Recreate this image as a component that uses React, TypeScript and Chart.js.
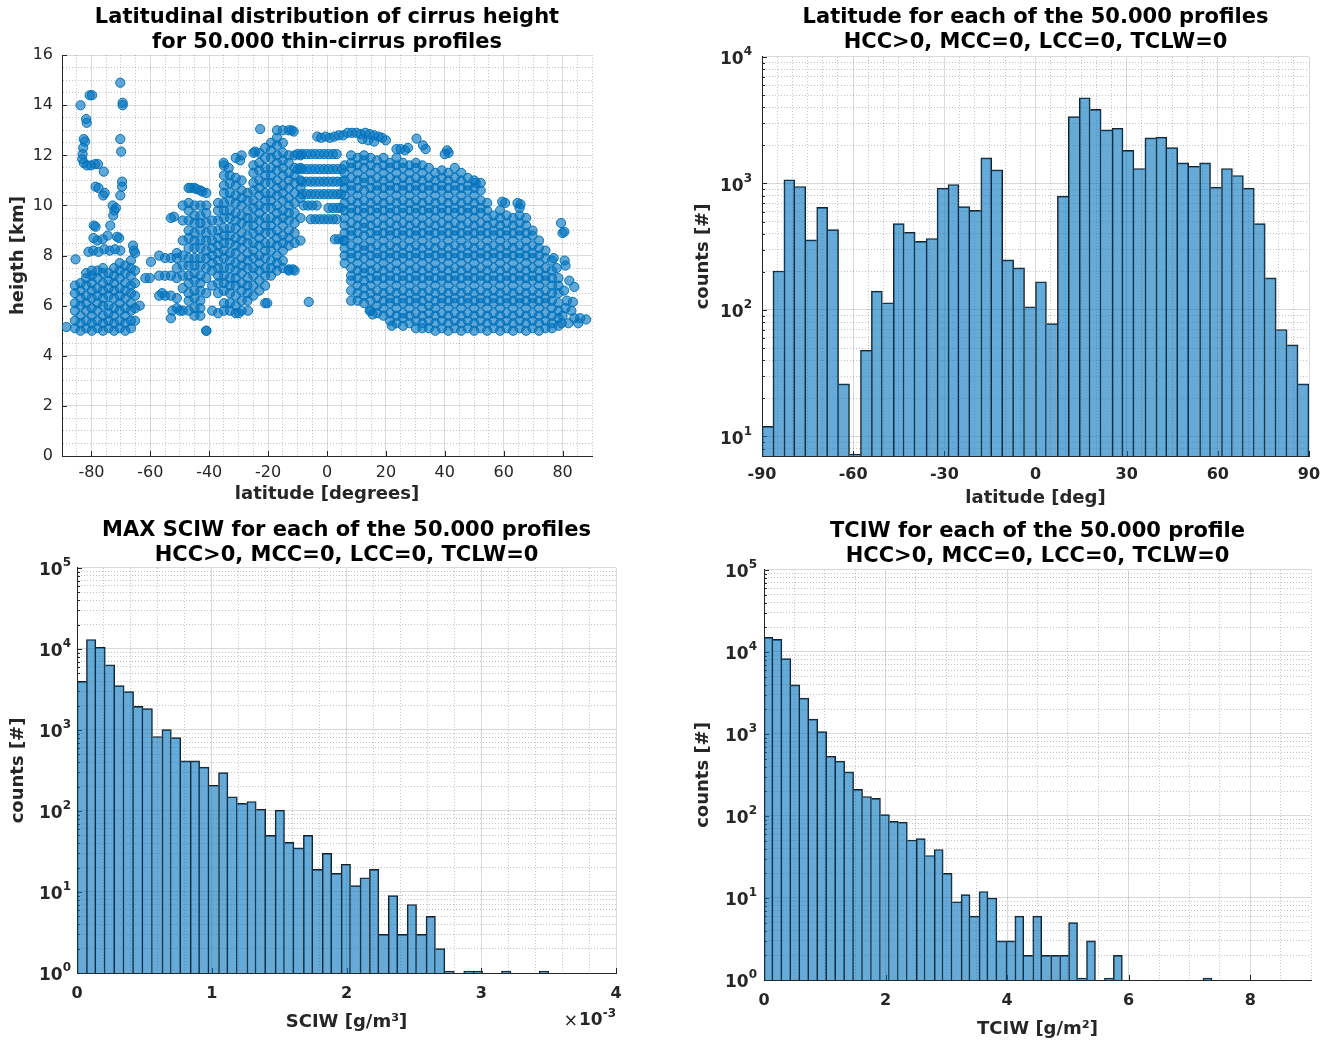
import React, { useEffect, useRef } from "react";
import { Chart, registerables } from "chart.js";

Chart.register(...registerables);

const FONT = "'DejaVu Sans', 'Liberation Sans', Arial, sans-serif";
const INK = "#262626";
const GRID_MAJOR = "rgba(38,38,38,0.17)";
const GRID_MINOR = "rgba(38,38,38,0.27)";
const BAR_FILL = "rgba(0,114,189,0.6)";
const BAR_EDGE = "#1f1f1f";
const DOT_FILL = "rgba(0,114,189,0.62)";
const DOT_EDGE = "#0072BD";

// ---------------- titles / labels ----------------
const titleScatter = ["Latitudinal distribution of cirrus height", "for 50.000 thin-cirrus profiles"];
const titleLat = ["Latitude for each of the 50.000 profiles", "HCC>0, MCC=0, LCC=0, TCLW=0"];
const titleSciw = ["MAX SCIW for each of the 50.000 profiles", "HCC>0, MCC=0, LCC=0, TCLW=0"];
const titleTciw = ["TCIW for each of the 50.000 profile", "HCC>0, MCC=0, LCC=0, TCLW=0"];

// ---------------- tick labels ----------------
const scatterLatTicks = [-80, -60, -40, -20, 0, 20, 40, 60, 80];
const scatterHeightTicks = [0, 2, 4, 6, 8, 10, 12, 14, 16];
const histLatTicks = [-90, -60, -30, 0, 30, 60, 90];
const sciwTicks = [0, 1, 2, 3, 4]; // in units of 1e-3 g/m3
const tciwTicks = [0, 2, 4, 6, 8];

// ---------------- scatter data (latitude, heights) ----------------
type Col = [number, number[]];

const polarSouthCols: Col[] = [
  [-85.6, [5.1, 5.4, 5.8, 6.1, 6.5, 6.8]],
  [-83.7, [5.0, 5.3, 5.6, 6.0, 6.3, 6.6, 6.9]],
  [-81.8, [5.1, 5.4, 5.8, 6.1, 6.4, 6.8, 7.1, 7.3]],
  [-79.9, [5.0, 5.3, 5.6, 5.9, 6.3, 6.6, 6.9, 7.2, 7.4]],
  [-78.0, [5.1, 5.4, 5.8, 6.1, 6.4, 6.7, 7.1, 7.4]],
  [-76.1, [5.0, 5.3, 5.6, 6.0, 6.3, 6.6, 6.9, 7.3, 7.5]],
  [-74.2, [5.1, 5.4, 5.7, 6.0, 6.4, 6.7, 7.0, 7.3]],
  [-72.3, [5.0, 5.3, 5.6, 5.9, 6.3, 6.6, 6.9, 7.2, 7.5]],
  [-70.4, [5.1, 5.4, 5.8, 6.1, 6.4, 6.7, 7.1, 7.4, 7.7]],
  [-68.5, [5.0, 5.3, 5.6, 5.9, 6.3, 6.6, 6.9, 7.3, 7.6]],
  [-66.6, [5.1, 5.4, 5.8, 6.1, 6.5, 6.8, 7.2, 7.5, 7.8]],
  [-65.2, [5.4, 5.9, 6.4, 6.9, 7.4, 8.1]],
];

const midSouthCols: Col[] = [
  [-57, [6.4, 7.2, 8.0]],
  [-55, [6.4, 7.2, 7.9]],
  [-53, [5.5, 6.4, 7.2, 7.9, 9.5]],
  [-51, [5.9, 6.3, 7.1, 7.5, 7.9, 8.1]],
  [-49, [5.8, 6.7, 7.2, 7.6, 8.0, 8.6, 9.4, 10.0]],
  [-47, [5.8, 6.2, 6.5, 6.9, 7.2, 7.6, 7.9, 8.3, 8.7, 9.0, 9.4, 9.8, 10.1, 10.7]],
  [-45, [5.6, 5.9, 6.3, 6.6, 7.0, 7.3, 7.6, 7.9, 8.3, 8.6, 8.9, 9.3, 9.6, 10.0, 10.7]],
  [-43, [5.6, 5.9, 6.2, 6.6, 6.9, 7.2, 7.6, 7.9, 8.3, 8.6, 9.0, 9.3, 9.6, 10.0, 10.6]],
  [-41, [5.0, 6.5, 7.1, 7.5, 7.9, 8.2, 8.6, 8.9, 9.3, 9.7, 10.0, 10.5]],
  [-39, [5.8, 6.8, 7.4, 7.7, 8.0, 8.3, 8.6, 9.0, 9.4]],
  [-37, [5.7, 6.5, 6.9, 7.2, 7.5, 7.8, 8.1, 8.4, 8.7, 9.0, 9.4, 9.8, 10.1]],
  [-35, [5.8, 6.1, 6.6, 6.9, 7.2, 7.5, 7.9, 8.2, 8.5, 8.8, 9.1, 9.5, 9.8, 10.1, 10.5, 10.8, 11.2, 11.6]],
  [-33, [5.8, 6.1, 6.5, 6.8, 7.1, 7.5, 7.8, 8.1, 8.5, 8.8, 9.1, 9.5, 9.8, 10.2, 10.5, 10.9, 11.2]],
  [-31, [5.7, 6.0, 6.4, 6.8, 7.1, 7.4, 7.7, 8.1, 8.4, 8.7, 9.1, 9.4, 9.7, 10.1, 10.4, 10.8, 11.1, 11.9]],
  [-29, [5.8, 6.2, 6.6, 6.9, 7.3, 7.6, 7.9, 8.3, 8.6, 8.9, 9.3, 9.6, 10.0, 10.3, 10.6, 11.0, 12.0]],
  [-27, [6.2, 6.5, 6.8, 7.1, 7.5, 7.8, 8.1, 8.5, 8.8, 9.2, 9.5, 9.8, 10.2, 10.5]],
  [-25, [6.4, 6.8, 7.2, 7.5, 7.9, 8.2, 8.5, 8.9, 9.2, 9.5, 9.9, 10.2, 10.6, 10.9, 11.3, 11.6, 12.1]],
  [-23, [6.6, 7.0, 7.4, 7.7, 8.0, 8.4, 8.7, 9.0, 9.4, 9.7, 10.0, 10.4, 10.7, 11.0, 11.4, 11.7, 12.1]],
  [-21, [6.1, 6.8, 7.2, 7.5, 7.9, 8.2, 8.5, 8.9, 9.2, 9.5, 9.9, 10.2, 10.5, 10.9, 11.2, 11.5, 11.9, 12.3]],
  [-19, [7.2, 7.5, 7.8, 8.2, 8.5, 8.9, 9.2, 9.5, 9.9, 10.2, 10.5, 10.9, 11.2, 11.5, 11.9, 12.2, 12.5]],
  [-17, [7.4, 7.7, 8.0, 8.4, 8.7, 9.0, 9.4, 9.7, 10.0, 10.4, 10.7, 11.0, 11.4, 11.7, 12.0, 12.4, 12.7, 13.0]],
  [-15, [7.5, 7.8, 8.2, 8.5, 8.8, 9.2, 9.5, 9.8, 10.2, 10.5, 10.8, 11.2, 11.5, 11.8, 12.1, 12.5, 13.0]],
  [-13, [7.4, 8.4, 8.7, 9.0, 9.4, 9.7, 10.0, 10.3, 10.7, 11.0, 11.3, 11.7, 12.0, 13.0]],
  [-11, [7.4, 8.5, 8.9, 9.3, 9.7, 10.1, 10.5, 10.9, 11.2, 11.5, 12.0]],
  [-9, [8.6, 9.5, 10.3, 10.7, 11.0, 11.5, 12.0]],
];

const northCols: Col[] = [
  [6.0, [7.7, 8.0, 8.3, 8.6, 8.9, 9.2, 9.5, 9.8, 10.1, 10.4, 10.7, 11.0, 11.3, 11.6]],
  [8.2, [6.2, 6.6, 7.0, 7.2, 7.5, 7.9, 8.1, 8.4, 8.8, 9.0, 9.3, 9.7, 9.9, 10.2, 10.6, 10.8, 11.1, 11.5, 11.7, 12.0]],
  [10.4, [6.2, 6.5, 6.8, 7.1, 7.4, 7.7, 8.0, 8.3, 8.6, 8.9, 9.2, 9.5, 9.8, 10.1, 10.4, 10.7, 11.0, 11.3, 11.6, 11.9]],
  [12.6, [6.1, 6.4, 6.7, 7.0, 7.3, 7.5, 7.9, 8.2, 8.4, 8.8, 9.1, 9.3, 9.7, 9.9, 10.2, 10.6, 10.9, 11.1, 11.5, 11.8, 12.0]],
  [14.8, [5.8, 6.2, 6.5, 6.8, 7.1, 7.4, 7.7, 8.0, 8.3, 8.6, 8.9, 9.2, 9.5, 9.8, 10.1, 10.4, 10.7, 11.0, 11.3, 11.6, 11.9]],
  [17.0, [5.7, 6.0, 6.3, 6.6, 7.0, 7.2, 7.5, 7.9, 8.1, 8.4, 8.8, 9.0, 9.3, 9.7, 9.9, 10.2, 10.6, 10.8, 11.1, 11.5, 11.8]],
  [19.2, [5.6, 5.9, 6.2, 6.5, 6.8, 7.1, 7.4, 7.7, 8.0, 8.3, 8.6, 8.9, 9.2, 9.5, 9.8, 10.1, 10.4, 10.7, 11.0, 11.3, 11.6, 11.9]],
  [21.4, [5.4, 5.7, 6.1, 6.3, 6.6, 7.0, 7.2, 7.5, 7.9, 8.1, 8.4, 8.8, 9.0, 9.3, 9.7, 9.9, 10.2, 10.6, 10.8, 11.1, 11.5, 11.7]],
  [23.6, [5.3, 5.6, 5.9, 6.2, 6.5, 6.8, 7.1, 7.4, 7.7, 8.0, 8.3, 8.6, 8.9, 9.2, 9.5, 9.8, 10.1, 10.4, 10.7, 11.0, 11.3, 11.6, 11.9]],
  [25.8, [5.2, 5.5, 5.7, 6.1, 6.3, 6.6, 7.0, 7.2, 7.5, 7.9, 8.1, 8.4, 8.8, 9.0, 9.3, 9.7, 9.9, 10.2, 10.6, 10.8, 11.1, 11.5, 11.7]],
  [28.0, [5.3, 5.6, 5.9, 6.2, 6.5, 6.8, 7.1, 7.4, 7.7, 8.0, 8.3, 8.6, 8.9, 9.2, 9.5, 9.8, 10.1, 10.4, 10.7, 11.0, 11.3, 11.6]],
  [30.2, [5.1, 5.4, 5.7, 6.1, 6.3, 6.6, 7.0, 7.2, 7.5, 7.9, 8.1, 8.4, 8.8, 9.0, 9.3, 9.7, 9.9, 10.2, 10.6, 10.8, 11.1, 11.5, 11.7]],
  [32.4, [5.1, 5.3, 5.6, 5.9, 6.2, 6.5, 6.8, 7.1, 7.4, 7.7, 8.0, 8.3, 8.6, 8.9, 9.2, 9.5, 9.8, 10.1, 10.4, 10.7, 11.0, 11.3, 11.6]],
  [34.6, [5.1, 5.4, 5.7, 6.0, 6.3, 6.6, 7.0, 7.2, 7.5, 7.9, 8.1, 8.4, 8.8, 9.0, 9.3, 9.7, 9.9, 10.2, 10.6, 10.8, 11.1, 11.5]],
  [36.8, [5.0, 5.3, 5.6, 5.9, 6.2, 6.5, 6.8, 7.1, 7.4, 7.7, 8.0, 8.3, 8.6, 8.9, 9.2, 9.5, 9.8, 10.1, 10.4, 10.7, 11.0, 11.3]],
  [39.0, [5.1, 5.4, 5.7, 6.1, 6.3, 6.6, 7.0, 7.2, 7.5, 7.9, 8.1, 8.4, 8.8, 9.0, 9.3, 9.7, 9.9, 10.2, 10.6, 10.8, 11.1, 11.4]],
  [41.2, [5.0, 5.3, 5.6, 5.9, 6.2, 6.5, 6.8, 7.1, 7.4, 7.7, 8.0, 8.3, 8.6, 8.9, 9.2, 9.5, 9.8, 10.1, 10.4, 10.7, 11.0, 11.3]],
  [43.4, [5.1, 5.4, 5.7, 6.1, 6.3, 6.6, 7.0, 7.2, 7.5, 7.9, 8.1, 8.4, 8.8, 9.0, 9.3, 9.7, 9.9, 10.2, 10.6, 10.8, 11.1, 11.5]],
  [45.6, [5.0, 5.3, 5.6, 5.9, 6.2, 6.5, 6.8, 7.1, 7.4, 7.7, 8.0, 8.3, 8.6, 8.9, 9.2, 9.5, 9.8, 10.1, 10.4, 10.7, 11.0, 11.3]],
  [47.8, [5.1, 5.4, 5.7, 6.1, 6.3, 6.6, 7.0, 7.2, 7.5, 7.9, 8.1, 8.4, 8.8, 9.0, 9.3, 9.7, 9.9, 10.2, 10.6, 10.8, 11.1]],
  [50.0, [5.0, 5.3, 5.6, 5.9, 6.2, 6.5, 6.8, 7.1, 7.4, 7.7, 8.0, 8.3, 8.6, 8.9, 9.2, 9.5, 9.8, 10.1, 10.4, 10.7, 11.0]],
  [52.2, [5.1, 5.4, 5.7, 6.1, 6.3, 6.6, 7.0, 7.2, 7.5, 7.9, 8.1, 8.4, 8.8, 9.0, 9.3, 9.7, 9.9, 10.2, 10.6, 10.9]],
  [54.4, [5.0, 5.3, 5.6, 5.9, 6.2, 6.5, 6.8, 7.1, 7.4, 7.7, 8.0, 8.3, 8.6, 8.9, 9.2, 9.5, 9.8, 10.1]],
  [56.6, [5.1, 5.4, 5.7, 6.1, 6.3, 6.6, 7.0, 7.2, 7.5, 7.9, 8.1, 8.4, 8.8, 9.0, 9.3, 9.6]],
  [58.8, [5.0, 5.3, 5.6, 5.9, 6.2, 6.5, 6.8, 7.1, 7.4, 7.7, 8.0, 8.3, 8.6, 8.9, 9.2, 9.5, 9.8]],
  [61.0, [5.1, 5.4, 5.7, 6.1, 6.3, 6.6, 7.0, 7.2, 7.5, 7.9, 8.1, 8.4, 8.8, 9.0, 9.3, 9.6]],
  [63.2, [5.0, 5.3, 5.6, 5.9, 6.2, 6.5, 6.8, 7.1, 7.4, 7.7, 8.0, 8.3, 8.6, 8.9, 9.2, 9.5]],
  [65.4, [5.1, 5.4, 5.7, 6.1, 6.3, 6.6, 7.0, 7.2, 7.5, 7.9, 8.1, 8.4, 8.8, 9.0, 9.3, 9.6, 9.9]],
  [67.6, [5.0, 5.3, 5.6, 5.9, 6.2, 6.5, 6.8, 7.1, 7.4, 7.7, 8.0, 8.3, 8.6, 8.9, 9.2, 9.5]],
  [69.8, [5.1, 5.4, 5.7, 6.1, 6.3, 6.6, 7.0, 7.2, 7.5, 7.9, 8.1, 8.4, 8.8, 9.0]],
  [72.0, [5.0, 5.3, 5.6, 5.9, 6.2, 6.5, 6.8, 7.1, 7.4, 7.7, 8.0, 8.3, 8.6]],
  [74.2, [5.1, 5.4, 5.7, 6.1, 6.3, 6.6, 7.0, 7.2, 7.5, 7.9, 8.2]],
  [76.4, [5.1, 5.3, 5.6, 5.9, 6.2, 6.5, 6.8, 7.1, 7.4, 7.8]],
  [78.6, [5.2, 5.5, 5.8, 6.1, 6.5, 6.8, 7.1]],
];

// isolated points and thin streaks: [latitude, height]
const scatterExtraPts: [number, number][] = [
  [-88.5, 5.15], [-85.4, 7.85], [-83.7, 14.0], [-80.6, 14.4], [-79.8, 14.4], [-81.8, 13.45], [-81.6, 13.3],
  [-70.2, 14.9], [-69.4, 14.1], [-69.4, 14.0], [-82.6, 12.65], [-82.2, 12.55], [-82.8, 12.3], [-83.0, 12.05],
  [-83.1, 11.85], [-82.6, 11.7], [-81.5, 11.6], [-80.2, 11.6], [-78.8, 11.65], [-77.8, 11.65],
  [-70.2, 12.65], [-69.9, 12.15], [-75.8, 11.35], [-69.6, 10.95], [-69.6, 10.75], [-70.2, 10.4],
  [-78.6, 10.75], [-77.6, 10.7], [-76.0, 10.4], [-75.5, 10.5], [-72.8, 10.0], [-72.2, 9.8], [-72.6, 9.6],
  [-71.7, 9.9], [-79.2, 9.2], [-78.6, 9.15], [-73.6, 9.2], [-74.5, 8.8], [-79.3, 8.7], [-78.0, 8.6],
  [-76.2, 8.65], [-71.3, 8.75], [-70.6, 8.7], [-81.0, 8.15], [-79.4, 8.2], [-77.6, 8.15], [-75.6, 8.25],
  [-73.8, 8.2], [-72.0, 8.25], [-70.2, 8.2], [-65.9, 8.4], [-65.6, 8.2], [-63.6, 6.0], [-59.8, 7.75],
  [-61.7, 7.1], [-60.2, 7.1],
  [-52.0, 9.55], [-46.3, 10.7], [-44.3, 10.65], [-42.3, 10.55], [-41.0, 5.0], [-20.3, 6.1], [-26.8, 5.8],
  [-30.0, 5.7], [-6.2, 6.15], [-22.7, 13.05], [-12.0, 13.0], [-11.3, 12.95], [-24.4, 12.15], [-29.5, 11.8],
  [-35.1, 11.7], [-33.4, 11.5], [-13.0, 7.45], [-11.6, 7.45], [-56.0, 6.5], [-52.5, 5.8], [-50.0, 5.8],
  [-10.0, 12.05], [-8.5, 12.05], [-7.0, 12.05], [-5.5, 12.05], [-4.0, 12.05], [-2.5, 12.05], [-1.0, 12.05],
  [0.5, 12.05], [2.0, 12.05], [3.3, 12.05],
  [-10.0, 11.45], [-8.5, 11.45], [-7.0, 11.45], [-5.5, 11.45], [-4.0, 11.45], [-2.5, 11.45], [-1.0, 11.45],
  [0.5, 11.45], [2.0, 11.45], [3.5, 11.45], [5.0, 11.45],
  [-8.5, 10.95], [-7.0, 10.95], [-5.5, 10.95], [-4.0, 10.95], [-2.5, 10.95], [-1.0, 10.95], [0.5, 10.95],
  [2.0, 10.95], [3.5, 10.95], [5.0, 10.95],
  [-8.5, 10.45], [-7.0, 10.45], [-5.5, 10.45], [-4.0, 10.45], [-2.5, 10.45], [-1.0, 10.45], [0.5, 10.45],
  [2.0, 10.45], [3.5, 10.45], [4.7, 10.45],
  [-8.0, 10.0], [-6.5, 10.0], [-5.0, 10.0], [-3.5, 10.0], [0.5, 9.9], [2.0, 9.9], [3.5, 9.9], [4.7, 9.9],
  [-5.5, 9.45], [-4.0, 9.45], [-2.5, 9.45], [-1.0, 9.45], [0.5, 9.45], [2.0, 9.45], [3.3, 9.45],
  [2.7, 8.65], [4.0, 8.65], [5.5, 8.6],
  [-3.3, 12.75], [-2.0, 12.7], [-0.5, 12.75], [1.0, 12.7], [2.5, 12.75], [4.0, 12.8], [5.5, 12.8],
  [7.0, 12.9], [8.5, 12.9], [10.0, 12.9], [11.5, 12.85], [13.0, 12.9], [14.5, 12.85], [16.0, 12.8],
  [17.5, 12.75], [18.7, 12.7], [20.0, 12.6], [12.0, 12.65], [14.0, 12.6], [16.0, 12.55],
  [23.6, 12.25], [25.0, 12.25], [26.5, 12.2], [27.5, 12.3], [30.4, 12.67], [32.6, 12.4], [33.5, 12.25],
  [40.0, 12.05], [40.8, 12.2], [41.3, 12.1], [50.5, 10.9], [59.5, 10.15], [60.5, 10.1], [64.7, 10.1],
  [65.7, 10.05], [79.5, 9.3], [80.0, 8.9], [80.6, 8.95], [80.7, 7.8], [81.0, 7.6], [84.0, 6.75],
  [83.5, 6.15], [88.0, 5.45], [80.0, 5.6], [82.0, 5.3], [84.0, 5.5], [86.0, 5.5], [22.0, 5.2],
  [14.5, 5.8], [15.5, 5.65], [80.5, 6.6], [82.3, 7.0], [81.5, 6.2], [79.7, 5.3], [85.3, 5.3],
  [77.0, 7.9], [78.0, 7.5], [81.0, 5.9], [83.0, 5.8],
];

// ---------------- histogram data ----------------
const latBinStart = -90;
const latBinWidth = 3.6;
const latCounts: (number | null)[] = [
  12, 203, 1069, 946, 358, 647, 431, 26, 7, 48,
  141, 114, 481, 411, 348, 367, 918, 981, 655, 612,
  1592, 1282, 249, 215, 106, 167, 78, 794, 3373, 4755,
  3846, 2648, 2730, 1828, 1313, 2292, 2327, 1920, 1455, 1368,
  1455, 935, 1313, 1156, 918, 481, 179, 70, 53, 26,
];

const sciwBinStart = 0;
const sciwBinWidth = 7e-5;
const sciwCounts: (number | null)[] = [
  3981, 13100, 10500, 6380, 3520, 2970, 1960, 1835, 830, 1010,
  806, 416, 416, 348, 208, 298, 150, 124, 131, 105,
  50, 102, 41, 35, 50, 19, 30, 17, 22, 12,
  15, 19, 3, 9, 3, 7, 3, 5, 2, 1,
  null, 1, 1, null, null, 1, null, null, null, 1,
];

const tciwBinStart = 0;
const tciwBinWidth = 0.1474;
const tciwCounts: (number | null)[] = [
  15070, 14270, 8300, 3970, 2737, 1520, 1066, 535, 466, 345,
  211, 173, 164, 104, 86, 84, 51, 53, 33, 39,
  20, 9, 11, 6, 12, 10, 3, 3, 6, 2,
  6, 2, 2, 2, 5, 1, 3, null, 1, 2,
  null, null, null, null, null, null, null, null, null, 1,
];

// ---------------- helpers ----------------
function steps(a: number, b: number, step: number): number[] {
  const out: number[] = [];
  const n = Math.round((b - a) / step);
  for (let i = 0; i <= n; i++) out.push(+(a + i * step).toPrecision(10));
  return out;
}
function logSteps(min: number, max: number): number[] {
  const out: number[] = [];
  for (let e = Math.floor(Math.log10(min)); e <= Math.ceil(Math.log10(max)); e++) {
    for (let m = 1; m <= 9; m++) {
      const v = m * Math.pow(10, e);
      if (v >= min * 0.999 && v <= max * 1.001) out.push(v);
    }
  }
  return out;
}
const isDecade = (v: number) => Math.abs(Math.log10(v) - Math.round(Math.log10(v))) < 1e-6;
const inList = (list: number[], v: number, scale = 1) =>
  list.some((t) => Math.abs(t * scale - v) < 1e-9 + Math.abs(scale) * 1e-6);

function colsToPoints(cols: Col[]) {
  return cols.flatMap(([lat, hs]) => hs.map((h) => ({ x: lat, y: h })));
}
function histPoints(start: number, width: number, counts: (number | null)[]) {
  return counts.map((c, i) => ({ x: start + width * (i + 0.5), y: c }));
}

type AxisSpec = {
  type: "linear" | "logarithmic";
  position: "left" | "bottom";
  min: number;
  max: number;
  ticks: number[];
  isMajor: (v: number) => boolean;
  label: (v: number) => string;
  tickBold: boolean;
  tickPad: number;
  title: string;
  titlePadTop: number;
  size: number;
};

function axis(s: AxisSpec): any {
  const horizontal = s.position === "bottom";
  return {
    type: s.type,
    position: s.position,
    min: s.min,
    max: s.max,
    offset: false,
    afterBuildTicks: (sc: any) => {
      sc.ticks = s.ticks.map((v) => ({ value: v, major: s.isMajor(v) }));
    },
    afterFit: (sc: any) => {
      if (horizontal) sc.height = s.size;
      else sc.width = s.size;
    },
    ticks: {
      autoSkip: false,
      maxRotation: 0,
      minRotation: 0,
      padding: s.tickPad,
      color: INK,
      font: { family: FONT, size: 16, weight: s.tickBold ? "bold" : "normal" },
      callback: (v: any) => s.label(Number(v)),
    },
    grid: {
      offset: false,
      drawTicks: false,
      lineWidth: 1,
      color: (c: any) => (c.tick && s.isMajor(c.tick.value) ? GRID_MAJOR : GRID_MINOR),
    },
    border: {
      display: true,
      color: INK,
      width: 1,
      dash: (c: any) => (c.tick && !s.isMajor(c.tick.value) ? [1, 2] : []),
    },
    title: {
      display: true,
      text: s.title,
      color: INK,
      font: { family: FONT, size: 18, weight: "bold", lineHeight: 1.2 },
      padding: { top: s.titlePadTop, bottom: 0 },
    },
  };
}

function titleOpts(text: string[], top: number, bottom: number) {
  return {
    display: true,
    text,
    color: "#000",
    fullSize: false,
    font: { family: FONT, size: 21, weight: "bold", lineHeight: 1.18 },
    padding: { top, bottom },
  };
}

const inwardTicks = {
  id: "inwardTicks",
  beforeDatasetsDraw(chart: any) {
    const { ctx, chartArea: a } = chart;
    ctx.save();
    ctx.strokeStyle = INK;
    ctx.lineWidth = 1;
    for (const s of Object.values(chart.scales) as any[]) {
      const isLog = s.type === "logarithmic";
      for (const t of s.ticks) {
        const len = t.major ? 5 : isLog ? 3 : 0;
        if (!len) continue;
        const p = Math.round(s.getPixelForValue(t.value)) + 0.5;
        ctx.beginPath();
        if (s.isHorizontal()) {
          ctx.moveTo(p, a.bottom);
          ctx.lineTo(p, a.bottom - len);
        } else {
          ctx.moveTo(a.left, p);
          ctx.lineTo(a.left + len, p);
        }
        ctx.stroke();
      }
    }
    ctx.restore();
  },
};

// power-of-ten labels ("10" with a raised exponent) for log axes
function powerLabels(pad: number) {
  return {
    id: "powerLabels",
    afterDraw(chart: any) {
      const { ctx, chartArea: a } = chart;
      const s = chart.scales.y;
      ctx.save();
      ctx.fillStyle = INK;
      ctx.textBaseline = "middle";
      ctx.textAlign = "right";
      for (const t of s.ticks) {
        if (!isDecade(t.value)) continue;
        const y = s.getPixelForValue(t.value);
        const exp = String(Math.round(Math.log10(t.value)));
        const right = a.left - pad;
        ctx.font = `bold 12px ${FONT}`;
        const ew = ctx.measureText(exp).width;
        ctx.fillText(exp, right, y - 5);
        ctx.font = `bold 17px ${FONT}`;
        ctx.fillText("10", right - ew, y + 3);
      }
      ctx.restore();
    },
  };
}

const expLabel = {
  id: "expLabel",
  afterDraw(chart: any) {
    const { ctx, chartArea: a } = chart;
    ctx.save();
    ctx.fillStyle = INK;
    ctx.textBaseline = "middle";
    ctx.textAlign = "right";
    ctx.font = `bold 12px ${FONT}`;
    const ew = ctx.measureText("-3").width;
    ctx.fillText("-3", a.right, 499);
    ctx.font = `bold 17px ${FONT}`;
    const bw = ctx.measureText("10").width;
    ctx.fillText("10", a.right - ew, 506);
    ctx.font = `normal 17px ${FONT}`;
    ctx.fillText("\u00d7", a.right - ew - bw - 1, 507);
    ctx.restore();
  },
};

function histDataset(start: number, width: number, counts: (number | null)[]) {
  return {
    data: histPoints(start, width, counts),
    backgroundColor: BAR_FILL,
    borderColor: BAR_EDGE,
    borderSkipped: false,
    minBarLength: 2,
    barPercentage: 1,
    categoryPercentage: 1,
    grouped: false,
    borderWidth: (c: any) => {
      const i = c.dataIndex;
      const cur = counts[i] ?? 0;
      const prev = i > 0 ? counts[i - 1] ?? 0 : 0;
      const next = i < counts.length - 1 ? counts[i + 1] ?? 0 : 0;
      return { top: 1, bottom: 0, left: prev <= cur ? 1 : 0, right: next < cur ? 1 : 0 };
    },
  };
}

const baseOptions = (padding: any, title: any, scales: any) => ({
  responsive: false,
  maintainAspectRatio: false,
  animation: false,
  events: [],
  layout: { padding },
  plugins: { legend: { display: false }, tooltip: { enabled: false }, title },
  scales,
});

const noLabel = () => "";

// ---------------- chart configs ----------------
function scatterConfig(): any {
  const pts = [
    ...colsToPoints(polarSouthCols),
    ...colsToPoints(midSouthCols),
    ...colsToPoints(northCols),
    ...scatterExtraPts.map(([x, y]) => ({ x, y })),
  ];
  return {
    type: "scatter",
    data: {
      datasets: [
        {
          data: pts,
          pointRadius: 4.6,
          pointHoverRadius: 4.6,
          pointBackgroundColor: DOT_FILL,
          pointBorderColor: DOT_EDGE,
          pointBorderWidth: 1,
        },
      ],
    },
    options: baseOptions(
      { left: 0, right: 77, top: 0, bottom: 10.2 },
      titleOpts(titleScatter, 5.6, 0),
      {
        x: axis({
          type: "linear", position: "bottom", min: -90, max: 90, ticks: steps(-90, 90, 5),
          isMajor: (v) => inList(scatterLatTicks, v),
          label: (v) => (inList(scatterLatTicks, v) ? String(v) : ""),
          tickBold: false, tickPad: 7, title: "latitude [degrees]", titlePadTop: 0, size: 48.8,
        }),
        y: axis({
          type: "linear", position: "left", min: 0, max: 16, ticks: steps(0, 16, 0.5),
          isMajor: (v) => inList(scatterHeightTicks, v),
          label: (v) => (inList(scatterHeightTicks, v) ? String(v) : ""),
          tickBold: false, tickPad: 9, title: "heigth [km]", titlePadTop: 7.2, size: 62,
        }),
      }
    ),
    plugins: [inwardTicks],
  };
}

function latHistConfig(): any {
  return {
    type: "bar",
    data: { datasets: [histDataset(latBinStart, latBinWidth, latCounts)] },
    options: baseOptions(
      { left: 0, right: 29, top: 0, bottom: 6.2 },
      titleOpts(titleLat, 5.6, 1.8),
      {
        x: axis({
          type: "linear", position: "bottom", min: -90, max: 90, ticks: steps(-90, 90, 5),
          isMajor: (v) => inList(histLatTicks, v),
          label: (v) => (inList(histLatTicks, v) ? String(v) : ""),
          tickBold: true, tickPad: 9, title: "latitude [deg]", titlePadTop: 0, size: 52.8,
        }),
        y: axis({
          type: "logarithmic", position: "left", min: 7, max: 1e4, ticks: logSteps(7, 1e4),
          isMajor: isDecade, label: noLabel,
          tickBold: true, tickPad: 10, title: "counts [#]", titlePadTop: 23.2, size: 93,
        }),
      }
    ),
    plugins: [inwardTicks, powerLabels(10)],
  };
}

function sciwHistConfig(): any {
  return {
    type: "bar",
    data: { datasets: [histDataset(sciwBinStart, sciwBinWidth, sciwCounts)] },
    options: baseOptions(
      { left: 0, right: 53, top: 0, bottom: 9.2 },
      titleOpts(titleSciw, 3.4, 0),
      {
        x: axis({
          type: "linear", position: "bottom", min: 0, max: 4e-3, ticks: steps(0, 4e-3, 2e-4),
          isMajor: (v) => inList(sciwTicks, v, 1e-3),
          label: (v) => (inList(sciwTicks, v, 1e-3) ? String(Math.round(v * 1e3)) : ""),
          tickBold: true, tickPad: 11, title: "SCIW [g/m\u00b3]", titlePadTop: 0, size: 59.8,
        }),
        y: axis({
          type: "logarithmic", position: "left", min: 1, max: 1e5, ticks: logSteps(1, 1e5),
          isMajor: isDecade, label: noLabel,
          tickBold: true, tickPad: 6, title: "counts [#]", titlePadTop: 7.2, size: 77,
        }),
      }
    ),
    plugins: [inwardTicks, powerLabels(6), expLabel],
  };
}

function tciwHistConfig(): any {
  return {
    type: "bar",
    data: { datasets: [histDataset(tciwBinStart, tciwBinWidth, tciwCounts)] },
    options: baseOptions(
      { left: 0, right: 27, top: 0, bottom: 2.2 },
      titleOpts(titleTciw, 4.6, 0.8),
      {
        x: axis({
          type: "linear", position: "bottom", min: 0, max: 9, ticks: steps(0, 9, 0.5),
          isMajor: (v) => inList(tciwTicks, v),
          label: (v) => (inList(tciwTicks, v) ? String(v) : ""),
          tickBold: true, tickPad: 11, title: "TCIW [g/m\u00b2]", titlePadTop: 0, size: 59.8,
        }),
        y: axis({
          type: "logarithmic", position: "left", min: 1, max: 1e5, ticks: logSteps(1, 1e5),
          isMajor: isDecade, label: noLabel,
          tickBold: true, tickPad: 7, title: "counts [#]", titlePadTop: 23.2, size: 95,
        }),
      }
    ),
    plugins: [inwardTicks, powerLabels(7)],
  };
}

// ---------------- components ----------------
function ChartBox(props: { left: number; top: number; width: number; height: number; make: () => any }) {
  const ref = useRef<HTMLCanvasElement>(null);
  useEffect(() => {
    const chart = new Chart(ref.current as HTMLCanvasElement, props.make());
    return () => chart.destroy();
  }, []);
  return (
    <canvas
      ref={ref}
      width={props.width}
      height={props.height}
      style={{ position: "absolute", left: props.left, top: props.top, width: props.width, height: props.height }}
    />
  );
}

export default function App() {
  return (
    <div style={{ position: "absolute", left: 0, top: 0, width: 1338, height: 1042, background: "#fff", overflow: "hidden" }}>
      <ChartBox left={0} top={0} width={669} height={515} make={scatterConfig} />
      <ChartBox left={669} top={0} width={669} height={515} make={latHistConfig} />
      <ChartBox left={0} top={515} width={669} height={527} make={sciwHistConfig} />
      <ChartBox left={669} top={515} width={669} height={527} make={tciwHistConfig} />
    </div>
  );
}
